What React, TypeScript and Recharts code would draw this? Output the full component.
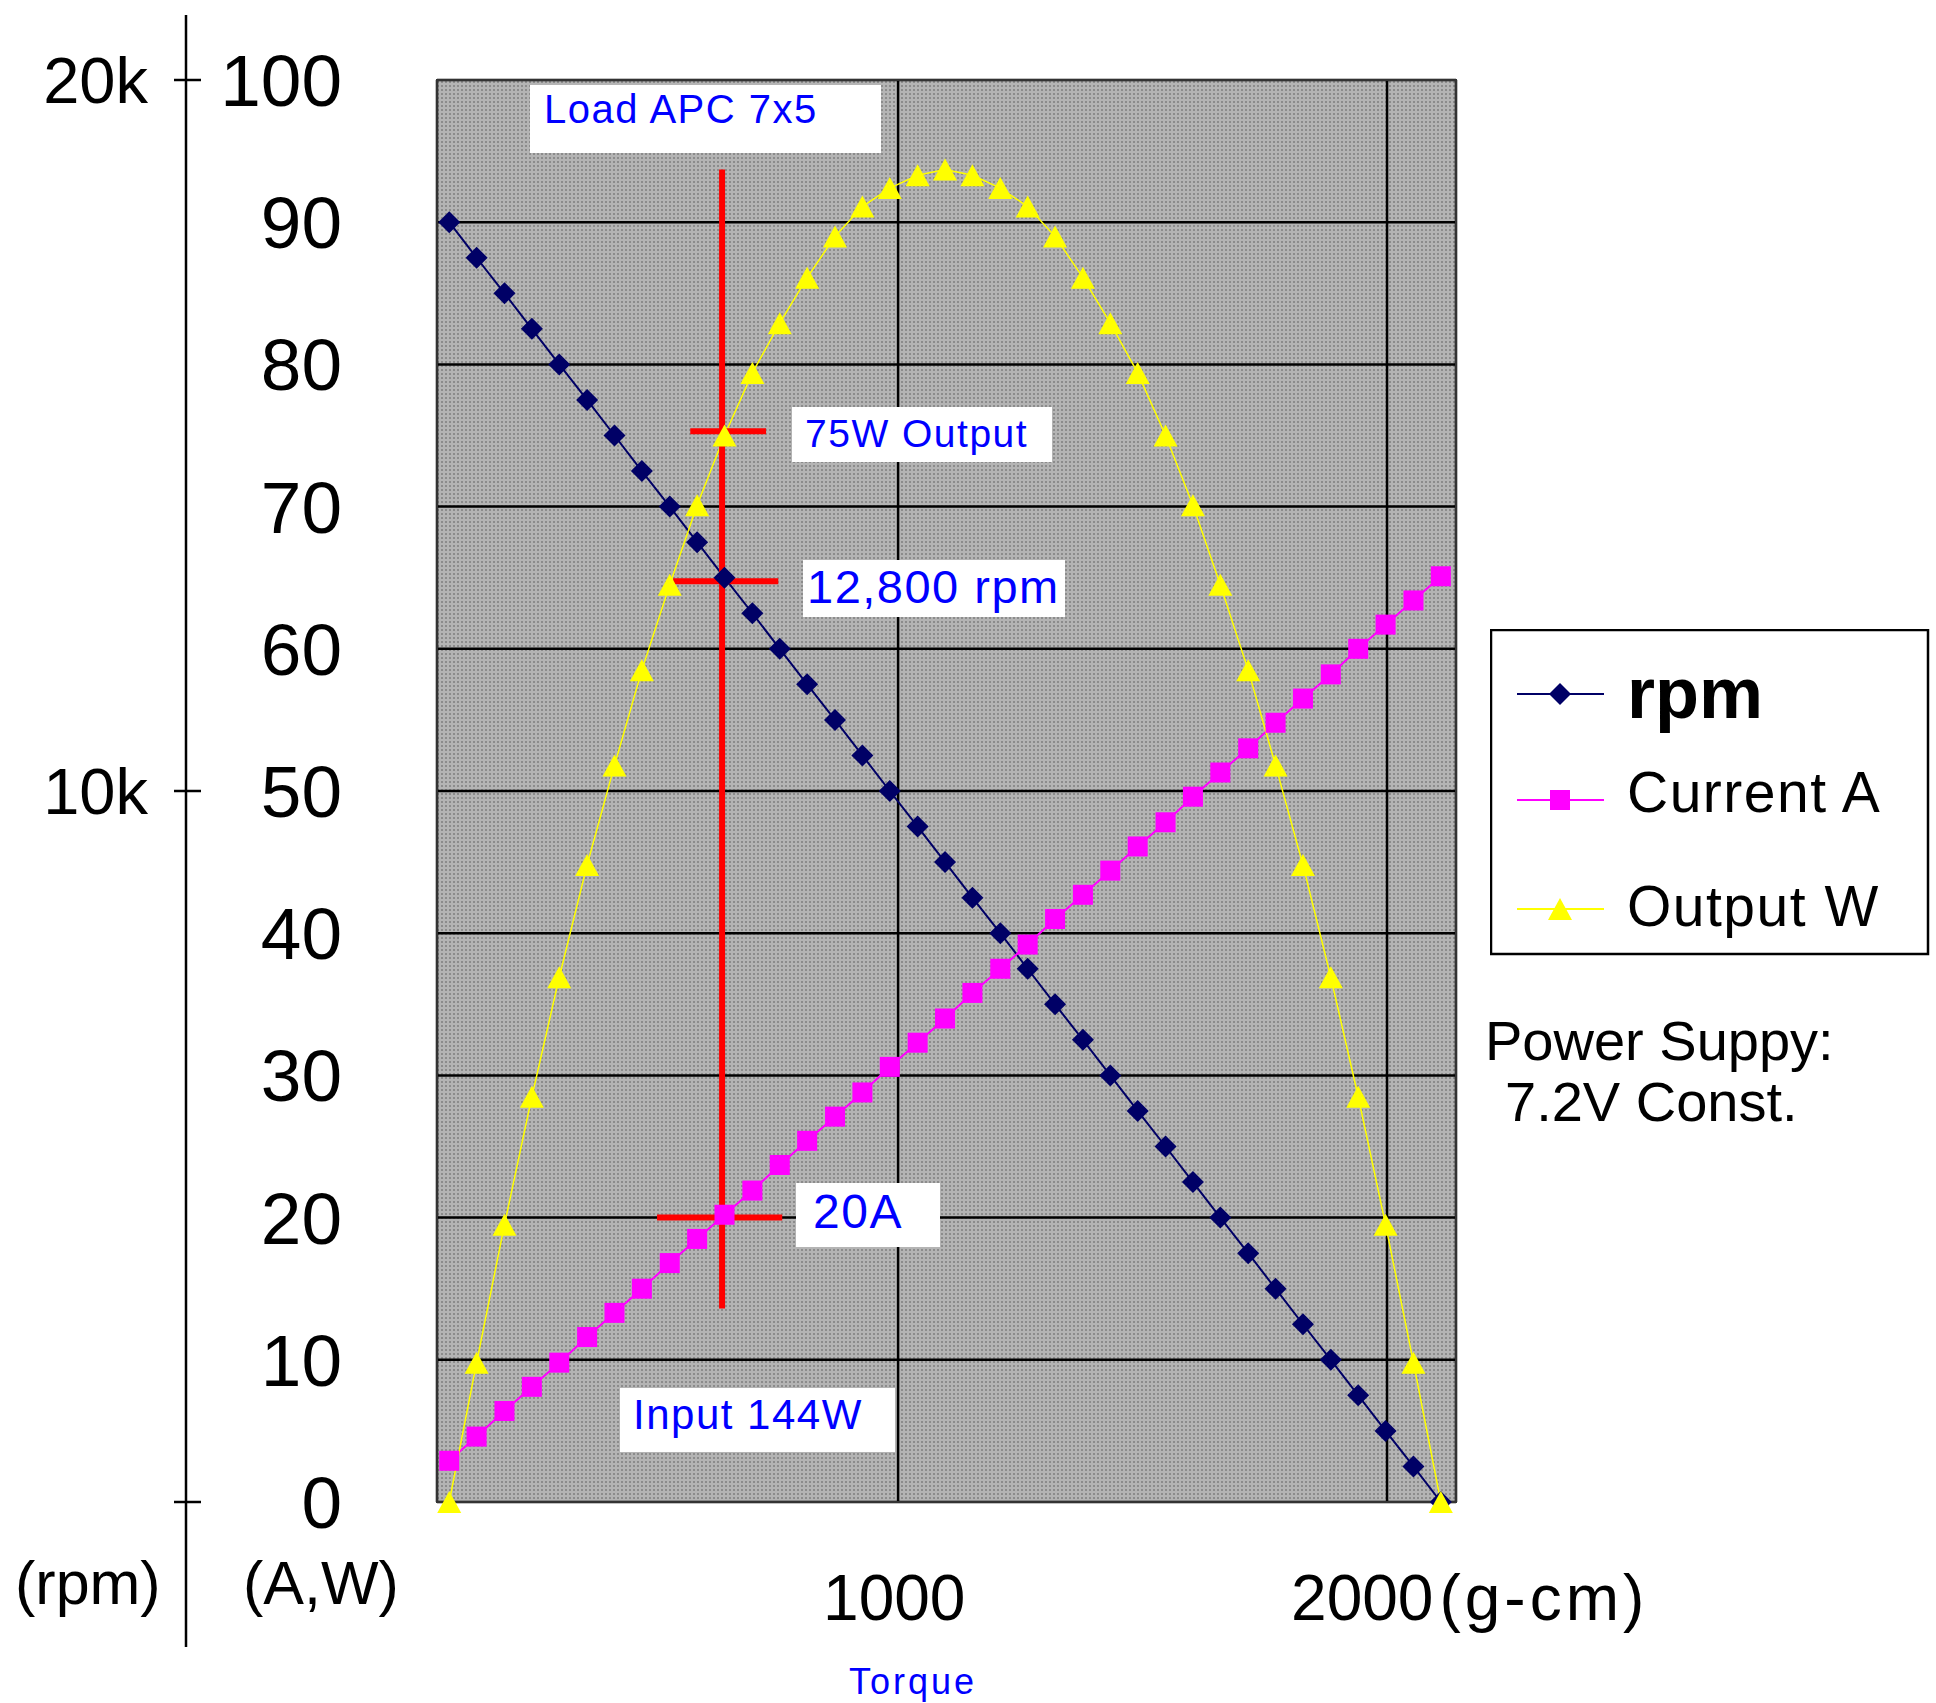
import { LineChart, Line, XAxis, YAxis, CartesianGrid, ReferenceLine, ReferenceArea, Legend } from 'recharts';

// torque (g-cm) at each measured point
const torque = [82, 138, 195, 251, 307, 364, 420, 476, 533, 589, 645, 702, 758, 814, 871, 927, 983, 1040, 1096, 1152, 1209, 1265, 1321, 1378, 1434, 1490, 1547, 1603, 1659, 1716, 1772, 1828, 1885, 1941, 1997, 2054, 2110];
const rpm = [18000, 17500, 17000, 16500, 16000, 15500, 15000, 14500, 14000, 13500, 13000, 12500, 12000, 11500, 11000, 10500, 10000, 9500, 9000, 8500, 8000, 7500, 7000, 6500, 6000, 5500, 5000, 4500, 4000, 3500, 3000, 2500, 2000, 1500, 1000, 500, 0];
const currentA = [2.9, 4.6, 6.4, 8.1, 9.8, 11.6, 13.3, 15.0, 16.8, 18.5, 20.2, 21.9, 23.7, 25.4, 27.1, 28.8, 30.6, 32.3, 34.0, 35.8, 37.5, 39.2, 41.0, 42.7, 44.4, 46.1, 47.8, 49.6, 51.3, 53.0, 54.8, 56.5, 58.2, 60.0, 61.7, 63.4, 65.1];
const outputW = [0, 9.8, 19.5, 28.5, 36.9, 44.8, 51.8, 58.5, 64.5, 70.1, 75.0, 79.4, 82.9, 86.1, 89.0, 91.1, 92.4, 93.3, 93.7, 93.3, 92.4, 91.1, 89.0, 86.1, 82.9, 79.4, 75.0, 70.1, 64.5, 58.5, 51.8, 44.8, 36.9, 28.5, 19.5, 9.8, 0];

const xTicks = [1000, 2000];
const awTicks = [0, 10, 20, 30, 40, 50, 60, 70, 80, 90, 100];
const rpmTicks = [0, 10000, 20000];
const seriesOrder = ['rpm', 'current', 'output'];

// operating point markers (red cross)
const opTorque = 640;
const opOutput = 75.3;
const opRpm = 12950;
const opCurrent = 20;

const data = torque.map((t, i) => ({ torque: t, rpm: rpm[i], current: currentA[i], output: outputW[i] }));

const FONT = '"Liberation Sans", Arial, sans-serif';

const diamond = (props: any) => {
  const { cx, cy, index } = props;
  if (cx == null || cy == null) return <g key={`d-${index}`} />;
  return <polygon key={`d-${index}`} points={`${cx},${cy - 11} ${cx + 11},${cy} ${cx},${cy + 11} ${cx - 11},${cy}`} fill="#000066" />;
};

const square = (props: any) => {
  const { cx, cy, index } = props;
  if (cx == null || cy == null) return <g key={`s-${index}`} />;
  return <rect key={`s-${index}`} x={cx - 10} y={cy - 10} width={20} height={20} fill="#ff00ff" />;
};

const triangle = (props: any) => {
  const { cx, cy, index } = props;
  if (cx == null || cy == null) return <g key={`t-${index}`} />;
  return <polygon key={`t-${index}`} points={`${cx},${cy - 11} ${cx + 12},${cy + 11} ${cx - 12},${cy + 11}`} fill="#ffff00" />;
};

const markers: Record<string, (p: any) => any> = { rpm: diamond, current: square, output: triangle };

const AwTick = ({ x, y, payload }: any) => (
  <text x={x - 95} y={y + 26} textAnchor="end" fontSize={73} fontFamily={FONT} fill="#000">
    {payload.value}
  </text>
);

const rpmLabel = (v: number) => (v === 0 ? '' : `${v / 1000}k`);

const RpmTick = ({ x, y, payload }: any) => (
  <g>
    <line x1={x - 12} y1={y} x2={x + 15} y2={y} stroke="#000" strokeWidth={2.5} />
    <text x={x - 38} y={y + 23} textAnchor="end" fontSize={65} fontFamily={FONT} fill="#000">
      {rpmLabel(payload.value)}
    </text>
  </g>
);

const TorqueTick = ({ x, y, payload }: any) => {
  if (payload.value === 2000) {
    return (
      <text x={x - 96} y={y + 118} fontSize={64} fontFamily={FONT} fill="#000">
        2000
        <tspan dx={6} letterSpacing={4}>(g-cm)</tspan>
      </text>
    );
  }
  return (
    <text x={x - 75} y={y + 118} fontSize={64} fontFamily={FONT} fill="#000">
      {payload.value}
    </text>
  );
};

const legendRows = [
  { line: 65, base: 89, size: 72, weight: 'bold', spacing: 0 },
  { line: 171, base: 183, size: 57, weight: 'normal', spacing: 1.5 },
  { line: 280, base: 297, size: 57, weight: 'normal', spacing: 1.5 },
];

const LegendBox = ({ payload }: any) => {
  const items = [...(payload || [])].sort(
    (a: any, b: any) => seriesOrder.indexOf(a.dataKey) - seriesOrder.indexOf(b.dataKey),
  );
  return (
    <svg width={440} height={327} style={{ display: 'block' }}>
      <rect x={1} y={1} width={437} height={324} fill="#fff" stroke="#000" strokeWidth={2.5} />
      {items.map((entry: any, i: number) => {
        const row = legendRows[i];
        const draw = markers[entry.dataKey];
        return (
          <g key={entry.value}>
            <line x1={27} y1={row.line} x2={114} y2={row.line} stroke={entry.color} strokeWidth={2} />
            {draw({ cx: 70, cy: row.line, index: 'legend' })}
            <text x={137} y={row.base} fontSize={row.size} fontWeight={row.weight} fontFamily={FONT} fill="#000" letterSpacing={row.spacing}>
              {entry.value}
            </text>
          </g>
        );
      })}
    </svg>
  );
};

const notes = [
  { text: 'Load APC 7x5', x: 530, y: 85, w: 351, h: 68, tx: 544, ty: 123, size: 40 },
  { text: '75W Output', x: 792, y: 407, w: 260, h: 55, tx: 805, ty: 447, size: 39 },
  { text: '12,800 rpm', x: 803, y: 560, w: 262, h: 57, tx: 807, ty: 603, size: 47 },
  { text: '20A', x: 796, y: 1183, w: 144, h: 64, tx: 813, ty: 1228, size: 48 },
  { text: 'Input 144W', x: 620, y: 1388, w: 275, h: 64, tx: 633, ty: 1429, size: 42 },
];

export default function App() {
  return (
    <div style={{ position: 'absolute', left: 0, top: 0, width: 1936, height: 1703, background: '#fff', fontFamily: FONT }}>
      <LineChart width={1936} height={1703} data={data} margin={{ top: 80, right: 480, bottom: 81, left: 0 }}>
        <defs>
          <pattern id="dotGray" width="4" height="4" patternUnits="userSpaceOnUse">
            <rect width="4" height="4" fill="#b4b4b4" />
            <rect x="1" y="1" width="2" height="2" fill="#8c8c8c" />
          </pattern>
        </defs>
        <XAxis
          dataKey="torque"
          type="number"
          domain={[57, 2141]}
          ticks={xTicks}
          tick={TorqueTick}
          tickLine={false}
          axisLine={false}
          tickSize={0}
          tickMargin={0}
          height={120}
          interval={0}
        />
        <YAxis
          yAxisId="aw"
          domain={[0, 100]}
          ticks={awTicks}
          tick={AwTick}
          width={251}
          tickLine={false}
          axisLine={false}
          tickSize={0}
          tickMargin={0}
          interval={0}
        />
        <YAxis
          yAxisId="rpm"
          domain={[0, 20000]}
          ticks={rpmTicks}
          tick={RpmTick}
          width={186}
          tickLine={false}
          axisLine={false}
          tickSize={0}
          tickMargin={0}
          interval={0}
        />
        <CartesianGrid yAxisId="aw" stroke="#000" strokeWidth={2.5} fill="url(#dotGray)" />
        <ReferenceArea yAxisId="aw" x1={57} x2={2141} y1={0} y2={100} fill="none" stroke="#333" strokeWidth={2} />
        <Line yAxisId="rpm" dataKey="rpm" name="rpm" stroke="#000066" strokeWidth={2} dot={diamond} isAnimationActive={false} />
        <Line yAxisId="aw" dataKey="current" name="Current A" stroke="#ff00ff" strokeWidth={2} dot={square} isAnimationActive={false} />
        <Line yAxisId="aw" dataKey="output" name="Output W" stroke="#ffff00" strokeWidth={1.5} dot={triangle} isAnimationActive={false} />
        <ReferenceLine yAxisId="aw" segment={[{ x: opTorque, y: 13.6 }, { x: opTorque, y: 93.7 }]} stroke="#ff0000" strokeWidth={6} />
        <ReferenceLine yAxisId="aw" segment={[{ x: 575, y: opOutput }, { x: 730, y: opOutput }]} stroke="#ff0000" strokeWidth={6} />
        <ReferenceLine yAxisId="rpm" segment={[{ x: 540, y: opRpm }, { x: 755, y: opRpm }]} stroke="#ff0000" strokeWidth={6} />
        <ReferenceLine yAxisId="aw" segment={[{ x: 507, y: opCurrent }, { x: 763, y: opCurrent }]} stroke="#ff0000" strokeWidth={6} />
        <Legend
          layout="vertical"
          align="center"
          verticalAlign="middle"
          content={LegendBox}
          wrapperStyle={{ left: 1490, top: 629, width: 440, height: 327 }}
        />
      </LineChart>
      <svg width={1936} height={1703} style={{ position: 'absolute', left: 0, top: 0, pointerEvents: 'none' }}>
        <line x1={186} y1={15} x2={186} y2={1647} stroke="#000" strokeWidth={2.5} />
        {notes.map((n) => (
          <g key={n.text}>
            <rect x={n.x} y={n.y} width={n.w} height={n.h} fill="#fff" />
            <text x={n.tx} y={n.ty} fontSize={n.size} fontFamily={FONT} fill="#0000ff" letterSpacing={1.5}>
              {n.text}
            </text>
          </g>
        ))}
        <text x={15} y={1604} fontSize={61} fontFamily={FONT} fill="#000">(rpm)</text>
        <text x={243} y={1604} fontSize={61} fontFamily={FONT} fill="#000">(A,W)</text>
        <text x={913} y={1694} fontSize={36} fontFamily={FONT} fill="#0000ff" textAnchor="middle" letterSpacing={3}>Torque</text>
        <text x={1485} y={1060} fontSize={56} fontFamily={FONT} fill="#000">Power Suppy:</text>
        <text x={1505} y={1121} fontSize={56} fontFamily={FONT} fill="#000">7.2V Const.</text>
      </svg>
    </div>
  );
}
